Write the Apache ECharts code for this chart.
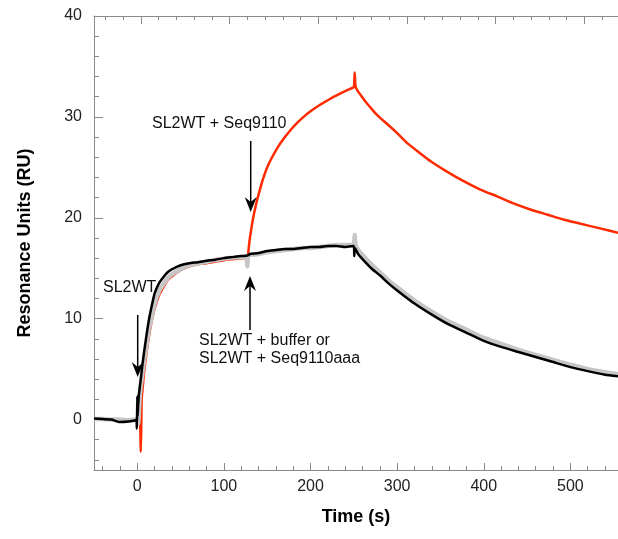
<!DOCTYPE html>
<html><head><meta charset="utf-8">
<script src="https://cdn.jsdelivr.net/npm/echarts@6/dist/echarts.min.js"></script>
<style>html,body{margin:0;padding:0;background:#fff}#c{width:618px;height:539px}</style>
</head><body><div id="c"></div>
<script>
// Time (s) and Resonance Units (RU)
const blackX = [-50,-40,-30,-20,-10,-3,-1,-0.5,0,0.3,1,2,4,6,8,10,13,16,20,25,30,35,40,50,60,70,80,90,100,110,120,127,128,130,140,150,160,170,180,190,200,210,220,230,240,250,250.5,251,252,255,260,270,280,290,300,320,340,360,380,400,420,440,460,480,500,520,540,555];
const blackY = [0.1,0.05,0,-0.25,-0.2,-0.1,0,-0.9,2.3,0.3,1.5,2.6,4,5.5,6.8,8,9.7,11,12.5,13.5,14.1,14.6,14.9,15.3,15.5,15.6,15.75,15.85,16.0,16.1,16.2,16.25,16.3,16.4,16.5,16.7,16.8,16.9,16.9,17.0,17.1,17.1,17.2,17.2,17.1,17.2,16.2,17.0,16.9,16.4,15.9,15.0,14.3,13.5,12.8,11.5,10.4,9.4,8.6,7.8,7.2,6.7,6.2,5.7,5.2,4.8,4.45,4.3];

const grayX = [-50,-40,-30,-20,-10,-3,0,1,2,3,5,8,10,13,16,20,25,30,35,40,50,60,70,80,90,100,110,120,126,127,128,130,140,150,160,170,180,190,200,210,220,230,240,250,251,252,255,260,270,280,290,300,320,340,360,380,400,420,440,460,480,500,520,540,555];
const grayY = [0.05,0.05,0,0,-0.1,0,0,-0.4,1,2.5,4,6,7,8.8,10,11.5,12.7,13.4,14.0,14.4,14.9,15.3,15.5,15.65,15.8,15.95,16.05,16.1,16.1,15.2,16.2,16.3,16.4,16.6,16.7,16.8,16.9,17.0,17.0,17.1,17.2,17.3,17.3,17.4,18.3,17.3,16.8,16.3,15.4,14.6,13.8,13.1,11.8,10.7,9.7,8.9,8.1,7.5,6.9,6.4,5.9,5.45,5.0,4.7,4.5];

const redX = [-50,-20,0,3,4,4.5,5,6,8,10,13,16,20,25,30,35,40,50,60,70,80,90,100,110,120,127,128,129,130,132,134,137,140,145,150,155,163,170,177,184,192,200,211,220,227,234,240,245,250,251,252,255,261,265,270,275,281,288.5,300,311.7,325,338.7,357,377.3,396,416,435,454.6,474,493,512,532,555];
const redY = [0,0,0,0,-3.2,-1,2,3,4.8,6.2,8,9.5,11,12.3,13.1,13.8,14.2,14.8,15.2,15.4,15.5,15.65,15.8,15.9,16.0,16.0,16.5,17.3,18,19.1,20.1,21.3,22.3,23.8,25.0,25.9,27.1,27.95,28.7,29.35,30.0,30.55,31.2,31.65,32.0,32.3,32.55,32.75,32.95,34.4,33.0,32.5,31.8,31.35,30.85,30.35,29.85,29.3,28.4,27.4,26.5,25.6,24.6,23.6,22.8,22.1,21.4,20.8,20.3,19.8,19.4,19.0,18.5];

const xLabels = [0,100,200,300,400,500];
const yLabels = [0,10,20,30,40];

function pairs(xs, ys){ return xs.map((x,i)=>[x, ys[i]]); }
function range(a,b,s){ const r=[]; for(let v=a; v<=b+1e-9; v+=s) r.push(Math.round(v*1000)/1000); return r; }

const FONT = 'Liberation Sans, Arial, Helvetica, sans-serif';
const axisCol = '#8a8a8a';
const X0 = -50, X1 = 555;
const TOPX0 = -52.9, TOPX1 = 538;

const chart = echarts.init(document.getElementById('c'), null, {renderer:'canvas'});
const baseX = (extra) => Object.assign({
  type:'value', min:X0, max:X1, gridIndex:0,
  splitLine:{show:false},
  axisLine:{show:true, onZero:false, lineStyle:{color:axisCol, width:1}},
}, extra);

const option = {
  animation:false,
  grid:{left:94, top:16, width:524, height:454, containLabel:false},
  xAxis:[
    baseX({position:'bottom',
      axisTick:{show:true, inside:true, length:4, customValues:range(-40,540,20), lineStyle:{color:axisCol}},
      axisLabel:{show:true, customValues:xLabels, color:'#222', fontSize:16, fontFamily:FONT, margin:9},
      name:'Time (s)', nameLocation:'middle', nameGap:38,
      nameTextStyle:{fontSize:18, fontWeight:'bold', color:'#000', fontFamily:FONT}
    }),
    baseX({position:'bottom', axisLine:{show:false, onZero:false},
      axisTick:{show:true, inside:true, length:7, customValues:xLabels, lineStyle:{color:axisCol}},
      axisLabel:{show:false}}),
    {type:'value', min:TOPX0, max:TOPX1, position:'top', gridIndex:0, splitLine:{show:false},
      axisLine:{show:true, onZero:false, lineStyle:{color:axisCol, width:1}},
      axisTick:{show:true, inside:true, length:4, customValues:range(-40,520,20), lineStyle:{color:axisCol}},
      axisLabel:{show:false}},
    {type:'value', min:TOPX0, max:TOPX1, position:'top', gridIndex:0, splitLine:{show:false},
      axisLine:{show:false, onZero:false},
      axisTick:{show:true, inside:true, length:8, customValues:xLabels, lineStyle:{color:axisCol}},
      axisLabel:{show:false}}
  ],
  yAxis:[
    {type:'value', min:-5, max:40, position:'left', splitLine:{show:false},
      axisLine:{show:true, onZero:false, lineStyle:{color:axisCol, width:1}},
      axisTick:{show:true, inside:true, length:5, customValues:range(-4,38,2), lineStyle:{color:axisCol}},
      axisLabel:{show:true, customValues:yLabels, color:'#222', fontSize:16, fontFamily:FONT, margin:12},
      name:'Resonance Units (RU)', nameLocation:'middle', nameGap:60, nameRotate:90,
      nameTextStyle:{fontSize:18, fontWeight:'bold', color:'#000', fontFamily:FONT}
    },
    {type:'value', min:-5, max:40, position:'left', splitLine:{show:false},
      axisLine:{show:false, onZero:false},
      axisTick:{show:true, inside:true, length:9, customValues:yLabels, lineStyle:{color:axisCol}},
      axisLabel:{show:false}}
  ],
  series:[
    {name:'SL2WT + Seq9110', type:'line', xAxisIndex:0, yAxisIndex:0, data:pairs(redX, redY),
      showSymbol:false, z:2, smooth:0.15, lineStyle:{color:'#ff2a00', width:2.5}},
    {name:'SL2WT + Seq9110aaa', type:'line', xAxisIndex:0, yAxisIndex:0, data:pairs(grayX, grayY),
      showSymbol:false, z:3, smooth:0.15, lineStyle:{color:'#c6c6c6', width:4.5}},
    {name:'SL2WT + buffer', type:'line', xAxisIndex:0, yAxisIndex:0, data:pairs(blackX, blackY),
      showSymbol:false, z:4, smooth:0.15, lineStyle:{color:'#000', width:2.5}}
  ]
};
chart.setOption(option);

function arrow(x, yTail, yTip){
  const dir = yTip > yTail ? 1 : -1;
  return [
    {type:'line', shape:{x1:x, y1:yTail, x2:x, y2:yTip - dir*8}, style:{stroke:'#000', lineWidth:1.5}, z:10},
    {type:'polygon', shape:{points:[[x, yTip],[x-6, yTip-dir*15],[x, yTip-dir*10],[x+6, yTip-dir*15]]}, style:{fill:'#000'}, z:10}
  ];
}
const txt = (x, y, s) => ({type:'text', x:x, y:y, style:{text:s, fill:'#111', font:'16px ' + FONT, textVerticalAlign:'middle'}, z:10});

chart.setOption({graphic:[
  txt(103, 288, 'SL2WT'),
  txt(152, 124, 'SL2WT + Seq9110'),
  txt(199, 341, 'SL2WT + buffer or'),
  txt(199, 359, 'SL2WT + Seq9110aaa'),
  ...arrow(137.7, 315, 377),
  ...arrow(250.7, 141, 212),
  ...arrow(250, 330, 276)
]});
</script></body></html>
